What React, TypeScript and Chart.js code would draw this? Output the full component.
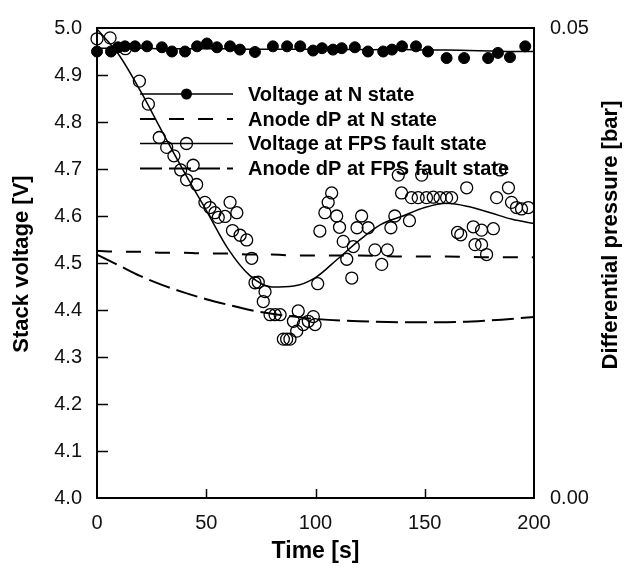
import React, { useEffect, useRef } from "react";
import { Chart, registerables } from "chart.js";

Chart.register(...registerables);

// ---- Data ----
// Voltage at N state (measured points)
const nTime = [0, 6.4, 9.6, 12.8, 17.4, 22.9, 29.7, 34.3, 40.3, 45.8, 50.3, 54.9, 60.9, 65.4, 72.3, 80.5, 87, 93, 98.9, 103, 108, 112, 118, 124, 131, 135, 139.6, 146, 151.5, 160, 168, 179, 183.5, 189, 196];
const nVoltage = [4.95, 4.95, 4.959, 4.961, 4.961, 4.961, 4.959, 4.95, 4.95, 4.961, 4.967, 4.959, 4.961, 4.954, 4.949, 4.961, 4.961, 4.961, 4.952, 4.957, 4.954, 4.957, 4.959, 4.95, 4.95, 4.954, 4.961, 4.961, 4.95, 4.936, 4.936, 4.936, 4.947, 4.938, 4.961];

// Fitted curves
const fitTime = [0, 10, 20, 30, 40, 50, 60, 70, 80, 90, 100, 110, 120, 130, 140, 150, 160, 170, 180, 190, 200];
const nVoltageFit = [4.957, 4.957, 4.957, 4.956, 4.956, 4.956, 4.956, 4.955, 4.955, 4.955, 4.955, 4.955, 4.954, 4.954, 4.954, 4.953, 4.953, 4.952, 4.951, 4.95, 4.95];
const fpsVoltageFit = [4.998, 4.943, 4.865, 4.778, 4.693, 4.612, 4.53, 4.473, 4.449, 4.451, 4.469, 4.508, 4.548, 4.582, 4.6, 4.618, 4.627, 4.62, 4.607, 4.593, 4.584];

const dpTime = [0, 10, 20, 30, 40, 50, 60, 70, 80, 90, 100, 120, 140, 160, 180, 200];
const nDp = [0.0263, 0.0262, 0.0262, 0.0261, 0.0261, 0.026, 0.026, 0.0259, 0.0259, 0.0258, 0.0258, 0.0258, 0.0257, 0.0257, 0.0256, 0.0256];
const fpsDp = [0.0259, 0.02475, 0.0236, 0.02265, 0.02185, 0.02115, 0.02055, 0.02, 0.0196, 0.0193, 0.01905, 0.0188, 0.0187, 0.0187, 0.0189, 0.01925];

// Voltage at FPS fault state (measured points)
const fpsTime = [0, 6, 13, 19.4, 23.5, 28.5, 31.9, 35.2, 38.3, 41, 44, 45.6, 49.4, 51.7, 54, 55.5, 58.6, 60.9, 62, 64, 65.5, 68.5, 70.8, 72.3, 73.8, 76.1, 76.9, 79.2, 81.5, 83.8, 85.3, 86.8, 88.3, 89.9, 91.4, 92.1, 94.4, 96.7, 99, 99.8, 101, 102, 104.3, 105.8, 107.4, 109.7, 111, 112.7, 114.3, 116.6, 117.3, 119, 121.1, 124.1, 127.2, 130.3, 132.9, 134.5, 136.3, 137.9, 139.4, 143, 143.9, 147, 148.6, 150.8, 153.9, 157, 160, 162.3, 165, 166.5, 169.2, 172.2, 173, 176, 176, 178.3, 181.4, 182.9, 184.4, 188.3, 189.7, 192, 194.3, 197.4];
const fpsVoltage = [4.977, 4.979, 4.956, 4.887, 4.838, 4.767, 4.746, 4.728, 4.698, 4.677, 4.708, 4.667, 4.629, 4.618, 4.607, 4.597, 4.599, 4.629, 4.569, 4.607, 4.559, 4.549, 4.51, 4.458, 4.459, 4.418, 4.439, 4.39, 4.39, 4.39, 4.338, 4.338, 4.338, 4.376, 4.355, 4.398, 4.369, 4.376, 4.386, 4.369, 4.456, 4.568, 4.607, 4.629, 4.649, 4.6, 4.576, 4.546, 4.508, 4.468, 4.535, 4.575, 4.6, 4.575, 4.528, 4.497, 4.528, 4.575, 4.6, 4.687, 4.649, 4.59, 4.639, 4.639, 4.687, 4.639, 4.64, 4.639, 4.639, 4.639, 4.565, 4.56, 4.66, 4.577, 4.539, 4.539, 4.57, 4.518, 4.573, 4.639, 4.698, 4.66, 4.629, 4.618, 4.615, 4.618];

const voltageTicks = [4.0, 4.1, 4.2, 4.3, 4.4, 4.5, 4.6, 4.7, 4.8, 4.9, 5.0];
const timeTicks = [0, 50, 100, 150, 200];
const legendLabels = ["Voltage at N state", "Anode dP at N state", "Voltage at FPS fault state", "Anode dP at FPS fault state"];

const FONT = 'Arial, "Liberation Sans", sans-serif';

const pts = (xs: number[], ys: number[]) => xs.map((x, i) => ({ x, y: ys[i] }));

const overlayPlugin = {
  id: "overlay",
  afterDraw(chart: any) {
    const { ctx, chartArea: a, scales } = chart;
    ctx.save();
    // frame
    ctx.strokeStyle = "#000";
    ctx.lineWidth = 2;
    ctx.strokeRect(a.left, a.top, a.right - a.left, a.bottom - a.top);
    // inward ticks
    ctx.lineWidth = 1.5;
    voltageTicks.slice(1, -1).forEach((v) => {
      const py = Math.round(scales.y.getPixelForValue(v)) + 0.5;
      ctx.beginPath();
      ctx.moveTo(a.left, py);
      ctx.lineTo(a.left + 11, py);
      ctx.stroke();
    });
    timeTicks.slice(1, -1).forEach((t) => {
      const px = Math.round(scales.x.getPixelForValue(t)) + 0.5;
      ctx.beginPath();
      ctx.moveTo(px, a.bottom);
      ctx.lineTo(px, a.bottom - 9);
      ctx.stroke();
    });

    // legend
    const lx0 = a.left + 43;
    const lx1 = a.left + 136;
    const mx = (lx0 + lx1) / 2;
    const tx = a.left + 151;
    const rows = [a.top + 66, a.top + 91, a.top + 115.5, a.top + 140.5];
    const dashes = [[], [15, 14], [], [22, 7]];
    const widths = [1.5, 2, 1.5, 2];
    ctx.fillStyle = "#000";
    ctx.font = `bold 20px ${FONT}`;
    ctx.textBaseline = "middle";
    ctx.textAlign = "left";
    rows.forEach((ry, i) => {
      ctx.setLineDash(dashes[i]);
      ctx.lineWidth = widths[i];
      ctx.beginPath();
      ctx.moveTo(lx0, ry);
      ctx.lineTo(lx1, ry);
      ctx.stroke();
      ctx.setLineDash([]);
      if (i === 0) {
        ctx.beginPath();
        ctx.arc(mx, ry, 5.5, 0, Math.PI * 2);
        ctx.fill();
      } else if (i === 2) {
        ctx.lineWidth = 1.3;
        ctx.beginPath();
        ctx.arc(mx, ry, 6, 0, Math.PI * 2);
        ctx.stroke();
      }
      ctx.fillText(legendLabels[i], tx, ry + 1);
    });

    // axis titles
    ctx.textAlign = "center";
    ctx.font = `bold 23px ${FONT}`;
    ctx.fillText("Time [s]", (a.left + a.right) / 2, a.bottom + 54);
    ctx.font = `bold 22px ${FONT}`;
    ctx.save();
    ctx.translate(22, (a.top + a.bottom) / 2 + 1);
    ctx.rotate(-Math.PI / 2);
    ctx.fillText("Stack voltage [V]", 0, 0);
    ctx.restore();
    ctx.save();
    ctx.translate(a.right + 77, (a.top + a.bottom) / 2 - 28);
    ctx.rotate(-Math.PI / 2);
    ctx.fillText("Differential pressure [bar]", 0, 0);
    ctx.restore();
    ctx.restore();
  },
};

export default function App() {
  const ref = useRef<HTMLCanvasElement | null>(null);
  useEffect(() => {
    document.body.style.margin = "0";
    if (!ref.current) return;
    const chart = new Chart(ref.current, {
      type: "scatter",
      data: {
        datasets: [
          {
            label: "Voltage at N state",
            data: pts(nTime, nVoltage),
            yAxisID: "y",
            pointStyle: "circle",
            pointRadius: 5.5,
            pointBackgroundColor: "#000",
            pointBorderColor: "#000",
            pointBorderWidth: 1,
            showLine: false,
            clip: false,
          } as any,
          {
            type: "line",
            label: "N fit",
            data: pts(fitTime, nVoltageFit),
            yAxisID: "y",
            borderColor: "#000",
            borderWidth: 1.5,
            pointRadius: 0,
            tension: 0.4,
          },
          {
            type: "line",
            label: "Anode dP at N state",
            data: pts(dpTime, nDp),
            yAxisID: "y2",
            borderColor: "#000",
            borderWidth: 2,
            borderDash: [15, 14],
            pointRadius: 0,
            cubicInterpolationMode: "monotone",
          },
          {
            label: "Voltage at FPS fault state",
            data: pts(fpsTime, fpsVoltage),
            yAxisID: "y",
            pointStyle: "circle",
            pointRadius: 6,
            pointBackgroundColor: "rgba(0,0,0,0)",
            pointBorderColor: "#000",
            pointBorderWidth: 1.3,
            showLine: false,
            clip: false,
          } as any,
          {
            type: "line",
            label: "FPS fit",
            data: pts(fitTime, fpsVoltageFit),
            yAxisID: "y",
            borderColor: "#000",
            borderWidth: 1.5,
            pointRadius: 0,
            cubicInterpolationMode: "monotone",
          },
          {
            type: "line",
            label: "Anode dP at FPS fault state",
            data: pts(dpTime, fpsDp),
            yAxisID: "y2",
            borderColor: "#000",
            borderWidth: 2,
            borderDash: [22, 7],
            pointRadius: 0,
            cubicInterpolationMode: "monotone",
          },
        ],
      },
      options: {
        responsive: false,
        animation: false,
        layout: { padding: { top: 16, left: 0, right: 0, bottom: 0 } },
        plugins: { legend: { display: false }, tooltip: { enabled: false } },
        scales: {
          x: {
            type: "linear",
            min: 0,
            max: 200,
            grid: { display: false, drawTicks: false },
            border: { display: false },
            ticks: {
              stepSize: 50,
              padding: 13,
              color: "#111",
              font: { size: 20, family: FONT },
              maxRotation: 0,
            },
            afterFit: (s: any) => {
              s.height = 72;
            },
          },
          y: {
            type: "linear",
            position: "left",
            min: 4,
            max: 5,
            grid: { display: false, drawTicks: false },
            border: { display: false },
            ticks: {
              stepSize: 0.1,
              padding: 15,
              color: "#111",
              font: { size: 20, family: FONT },
              callback: (v: any) => Number(v).toFixed(1),
            },
            afterFit: (s: any) => {
              s.width = 97;
            },
          },
          y2: {
            type: "linear",
            position: "right",
            min: 0,
            max: 0.05,
            grid: { display: false, drawTicks: false },
            border: { display: false },
            ticks: {
              stepSize: 0.05,
              padding: 16,
              color: "#111",
              font: { size: 20, family: FONT },
              callback: (v: any) => Number(v).toFixed(2),
            },
            afterFit: (s: any) => {
              s.width = 95;
            },
          },
        },
      },
      plugins: [overlayPlugin],
    } as any);
    return () => chart.destroy();
  }, []);
  return <canvas ref={ref} width={629} height={570} style={{ display: "block" }} />;
}
